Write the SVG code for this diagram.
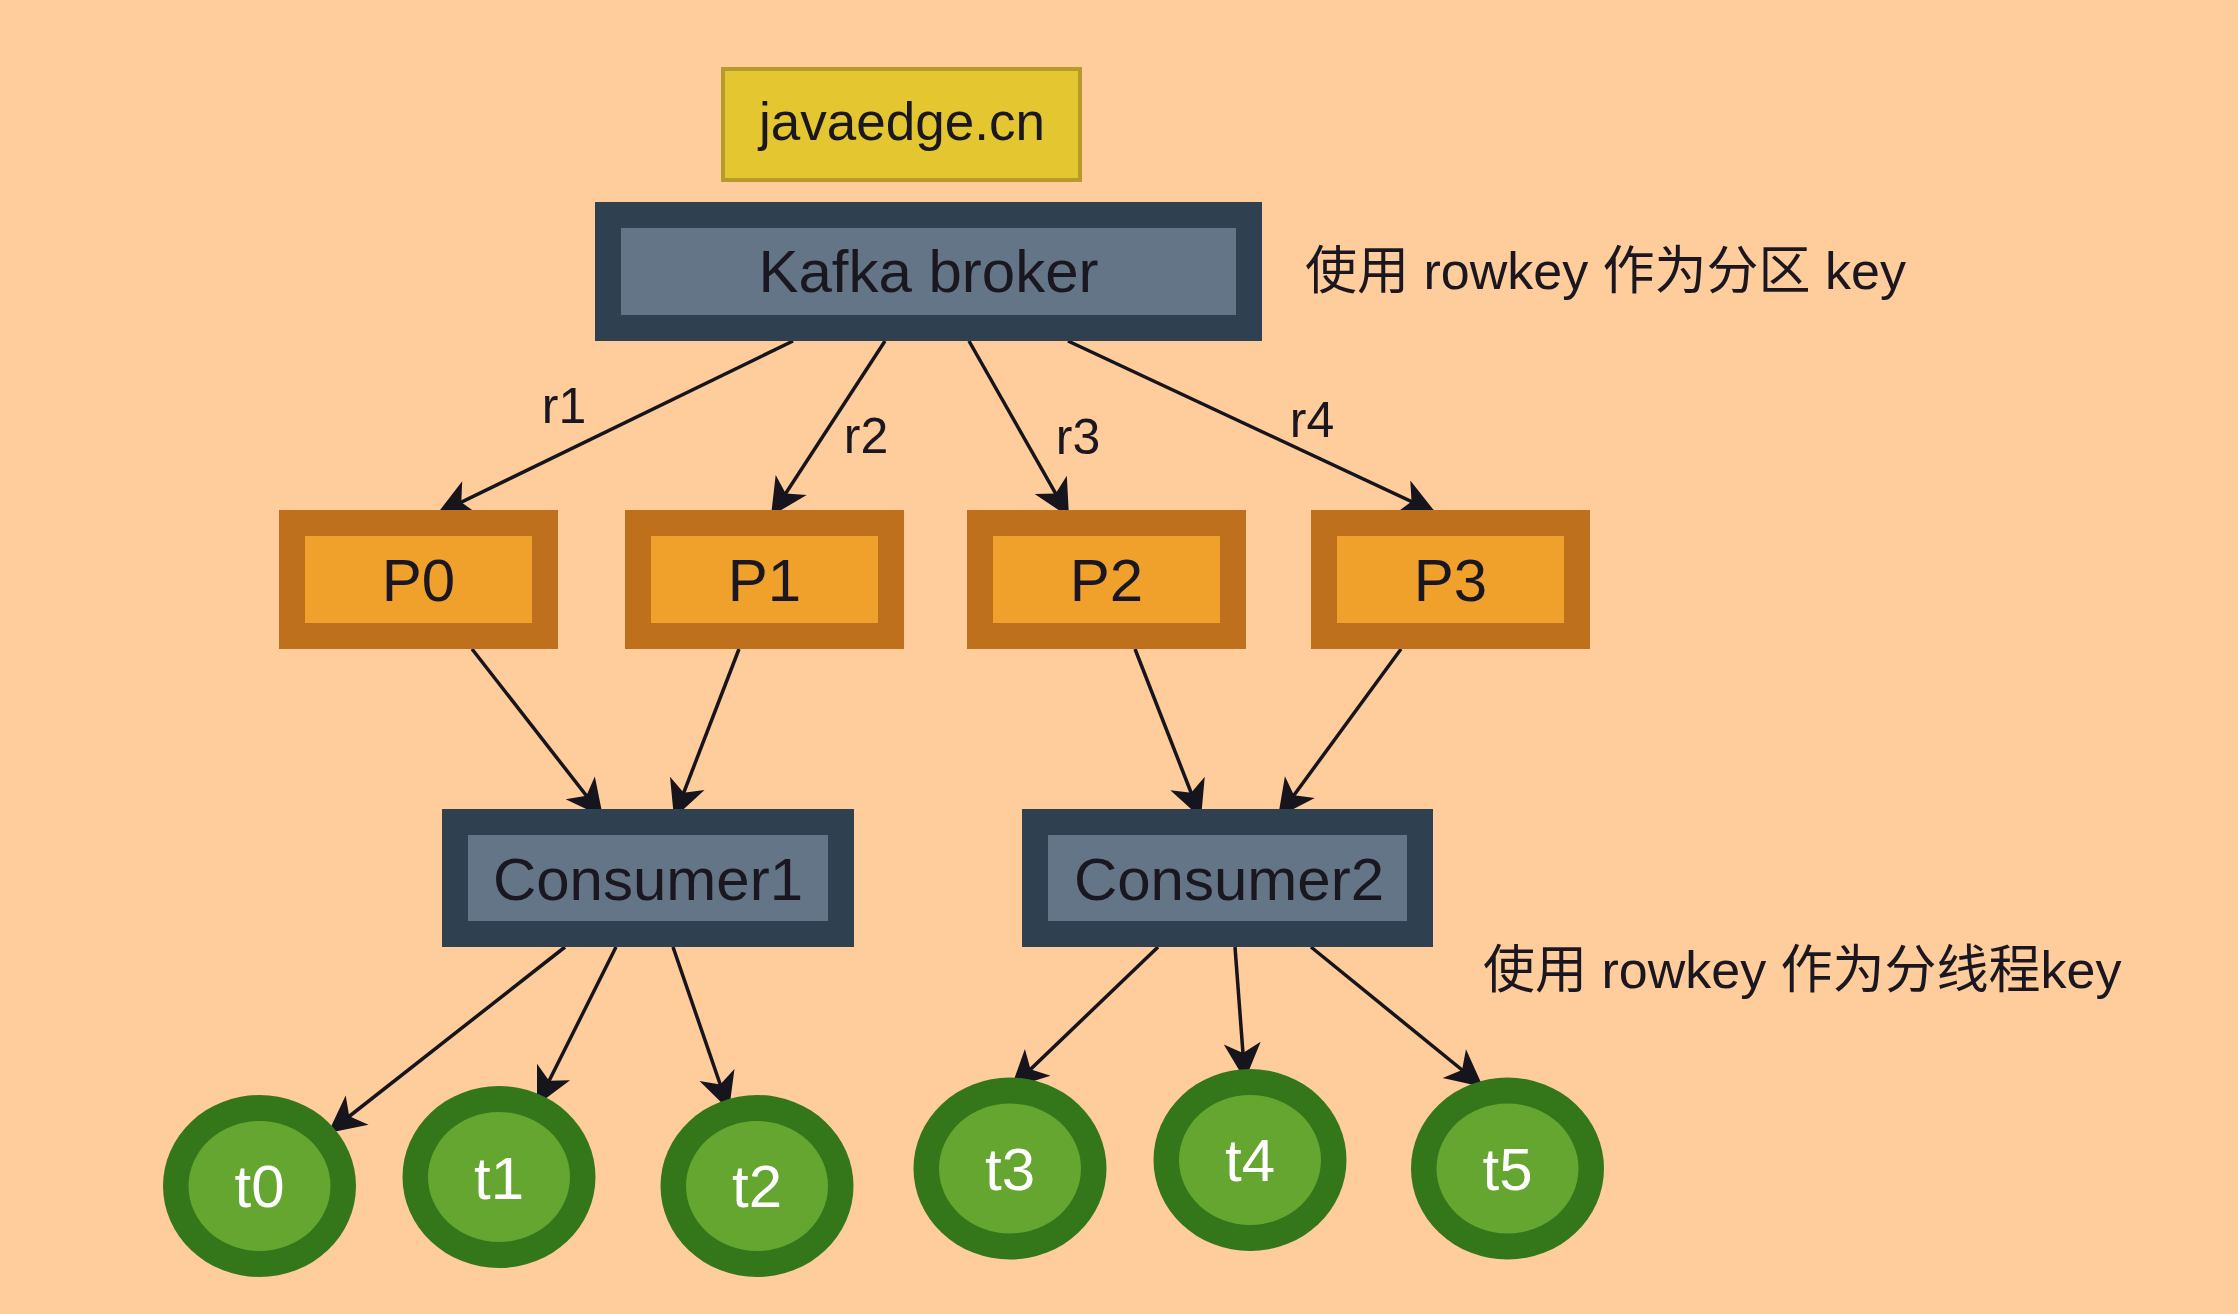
<svg xmlns="http://www.w3.org/2000/svg" width="2238" height="1314" viewBox="0 0 2238 1314">
<style>
.t{font-family:"Liberation Sans","Noto Sans CJK SC",sans-serif;fill:#1a1720}
.big{font-size:60px;text-anchor:middle}
.lbl{font-size:50px;text-anchor:middle}
.note{font-size:52px}
.w{fill:#ffffff}
.edge{stroke:#16141c;stroke-width:3.5;fill:none}
.bo{fill:#2f4050}
.bi{fill:#647587}
.po{fill:#bf701c}
.pi{fill:#f0a12c}
.eo{fill:#33771a}
.ei{fill:#64a630}
</style>
<defs>
<marker id="arr" markerUnits="userSpaceOnUse" viewBox="-40 -20 42 40" refX="0" refY="0" markerWidth="42" markerHeight="40" orient="auto">
<path d="M0,0 L-37,-18.5 L-27,0 L-37,18.5 Z" fill="#16141c"/>
</marker>
</defs>
<rect x="0" y="0" width="2238" height="1314" fill="#ffcc9c"/>
<g id="connectors">
<line class="edge" x1="793" y1="341" x2="437" y2="514" marker-end="url(#arr)"/>
<line class="edge" x1="885" y1="341" x2="771" y2="516" marker-end="url(#arr)"/>
<line class="edge" x1="969" y1="341" x2="1069" y2="517" marker-end="url(#arr)"/>
<line class="edge" x1="1068" y1="341" x2="1436" y2="513" marker-end="url(#arr)"/>
<line class="edge" x1="472" y1="649" x2="603" y2="817" marker-end="url(#arr)"/>
<line class="edge" x1="739" y1="649" x2="674" y2="818" marker-end="url(#arr)"/>
<line class="edge" x1="1135" y1="649" x2="1201" y2="818" marker-end="url(#arr)"/>
<line class="edge" x1="1401" y1="649" x2="1278" y2="817" marker-end="url(#arr)"/>
<line class="edge" x1="565" y1="947" x2="328" y2="1133" marker-end="url(#arr)"/>
<line class="edge" x1="616" y1="947" x2="537" y2="1105" marker-end="url(#arr)"/>
<line class="edge" x1="673" y1="947" x2="729" y2="1110" marker-end="url(#arr)"/>
<line class="edge" x1="1158" y1="947" x2="1011" y2="1088" marker-end="url(#arr)"/>
<line class="edge" x1="1235" y1="947" x2="1245" y2="1080" marker-end="url(#arr)"/>
<line class="edge" x1="1311" y1="947" x2="1483" y2="1087" marker-end="url(#arr)"/>
<text class="t lbl" x="564" y="423">r1</text>
<text class="t lbl" x="866" y="453">r2</text>
<text class="t lbl" x="1078" y="454">r3</text>
<text class="t lbl" x="1312" y="437">r4</text>
</g>
<g id="javaedge">
<rect x="723" y="69" width="357" height="111" fill="#e3c630" stroke="#b8992c" stroke-width="4"/>
<text class="t big" x="902" y="140" style="font-size:53px">javaedge.cn</text>
</g>
<g id="broker">
<rect class="bo" x="595" y="202" width="667" height="139"/>
<rect class="bi" x="621" y="228" width="615" height="87"/>
<text class="t big" x="928.5" y="292">Kafka broker</text>
</g>
<g id="P0">
<rect class="po" x="279" y="510" width="279" height="139"/>
<rect class="pi" x="305" y="536" width="227" height="87"/>
<text class="t big" x="418.5" y="601">P0</text>
</g>
<g id="P1">
<rect class="po" x="625" y="510" width="279" height="139"/>
<rect class="pi" x="651" y="536" width="227" height="87"/>
<text class="t big" x="764.5" y="601">P1</text>
</g>
<g id="P2">
<rect class="po" x="967" y="510" width="279" height="139"/>
<rect class="pi" x="993" y="536" width="227" height="87"/>
<text class="t big" x="1106.5" y="601">P2</text>
</g>
<g id="P3">
<rect class="po" x="1311" y="510" width="279" height="139"/>
<rect class="pi" x="1337" y="536" width="227" height="87"/>
<text class="t big" x="1450.5" y="601">P3</text>
</g>
<g id="consumer1">
<rect class="bo" x="442" y="809" width="412" height="138"/>
<rect class="bi" x="468" y="835" width="360" height="86"/>
<text class="t big" x="648" y="900">Consumer1</text>
</g>
<g id="consumer2">
<rect class="bo" x="1022" y="809" width="411" height="138"/>
<rect class="bi" x="1048" y="835" width="359" height="86"/>
<text class="t big" x="1229" y="900">Consumer2</text>
</g>
<g id="t0">
<ellipse class="eo" cx="259.5" cy="1186" rx="96.5" ry="91"/>
<ellipse class="ei" cx="259.5" cy="1186" rx="71" ry="65"/>
<text class="t big w" x="259.5" y="1207">t0</text>
</g>
<g id="t1">
<ellipse class="eo" cx="499" cy="1177" rx="96.5" ry="91"/>
<ellipse class="ei" cx="499" cy="1177" rx="71" ry="65"/>
<text class="t big w" x="499" y="1199">t1</text>
</g>
<g id="t2">
<ellipse class="eo" cx="757" cy="1186" rx="96.5" ry="91"/>
<ellipse class="ei" cx="757" cy="1186" rx="71" ry="65"/>
<text class="t big w" x="757" y="1207">t2</text>
</g>
<g id="t3">
<ellipse class="eo" cx="1010" cy="1168.5" rx="96.5" ry="91"/>
<ellipse class="ei" cx="1010" cy="1168.5" rx="71" ry="65"/>
<text class="t big w" x="1010" y="1190">t3</text>
</g>
<g id="t4">
<ellipse class="eo" cx="1250" cy="1160" rx="96.5" ry="91"/>
<ellipse class="ei" cx="1250" cy="1160" rx="71" ry="65"/>
<text class="t big w" x="1250" y="1181">t4</text>
</g>
<g id="t5">
<ellipse class="eo" cx="1507.5" cy="1168.5" rx="96.5" ry="91"/>
<ellipse class="ei" cx="1507.5" cy="1168.5" rx="71" ry="65"/>
<text class="t big w" x="1507.5" y="1190">t5</text>
</g>
<g id="notes">
<text class="t note" x="1305" y="289">使用 rowkey 作为分区 key</text>
<text class="t note" x="1483" y="988">使用 rowkey 作为分线程key</text>
</g>
</svg>
